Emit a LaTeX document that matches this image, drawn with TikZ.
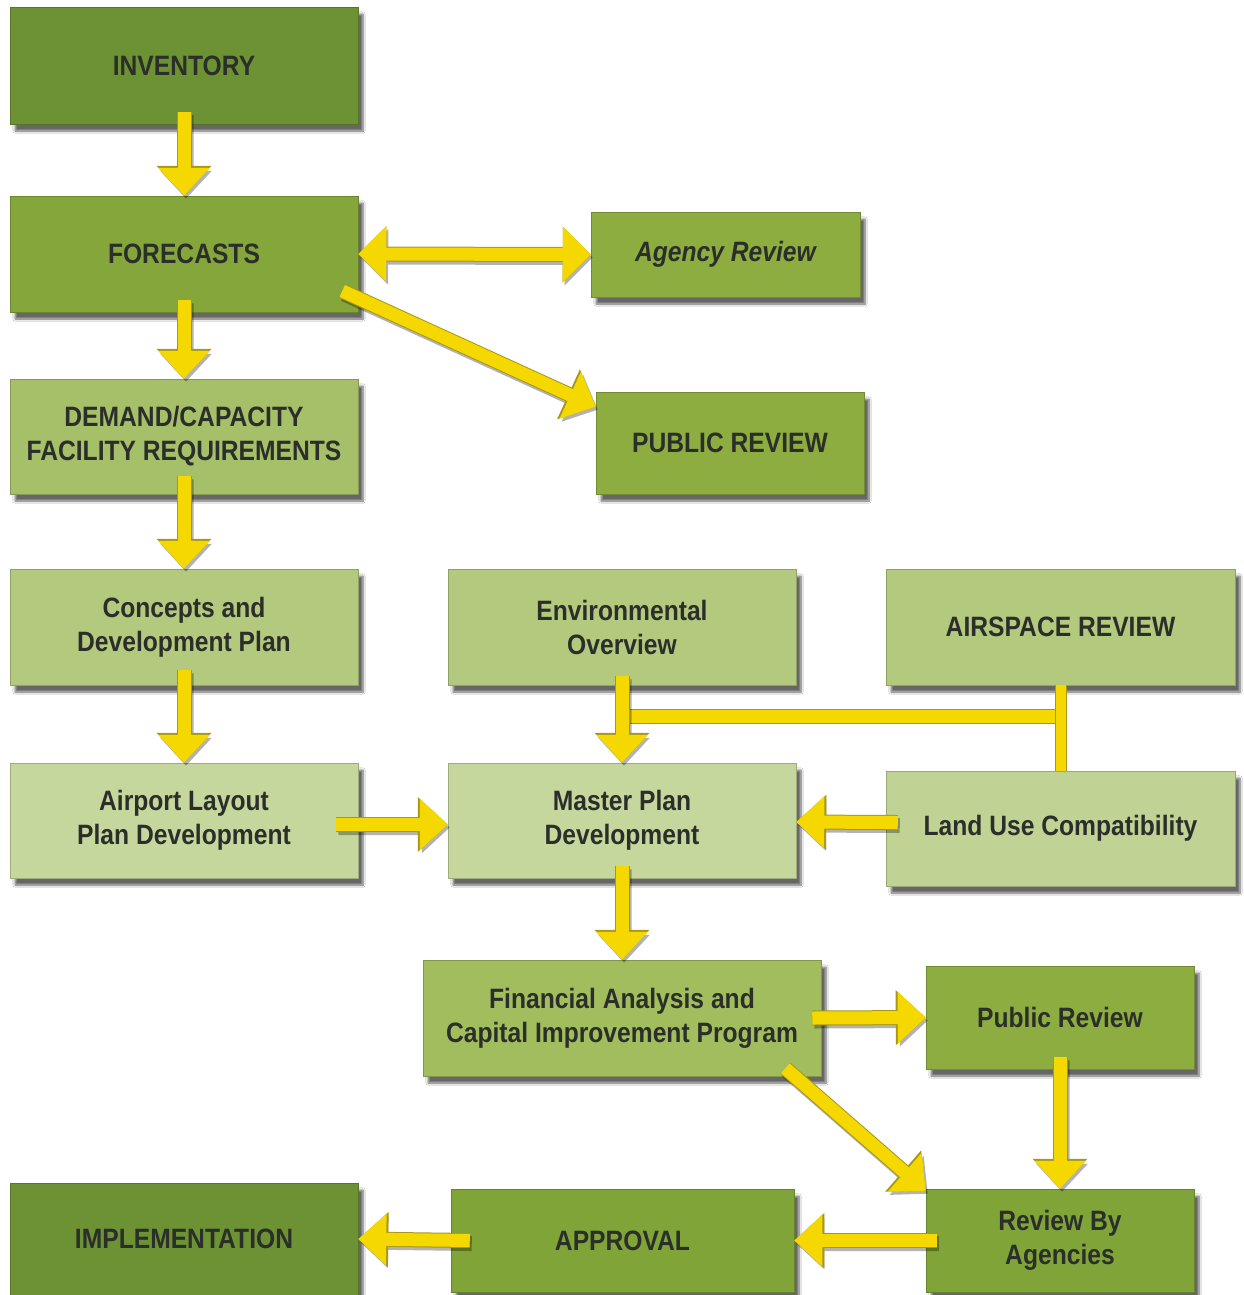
\documentclass[tikz,border=0pt]{standalone}
\usepackage{fontspec}
\setmainfont{Liberation Sans}[FakeStretch=0.88]
\usetikzlibrary{arrows.meta,shadows.blur,calc}
\definecolor{gA}{HTML}{6D9233}
\definecolor{gB}{HTML}{84A63A}
\definecolor{gC}{HTML}{8DAD40}
\definecolor{gD}{HTML}{80A438}
\definecolor{gE}{HTML}{A6BF69}
\definecolor{gF}{HTML}{B3C97E}
\definecolor{gG}{HTML}{C6D79E}
\definecolor{gH}{HTML}{C0D294}
\definecolor{gI}{HTML}{A2BD5E}
\definecolor{txt}{HTML}{2B2F2A}
\definecolor{ylw}{HTML}{F5D800}
\definecolor{yedge}{HTML}{A8981A}
\newcommand\ylink[3][]{%
  \begin{scope}[transparency group,opacity=0.3]
    \draw[yarr,draw=black,line width=15pt,#1,transform canvas={shift={(2pt,-3pt)}}] #2 -- #3;
  \end{scope}
  \draw[yarr,draw=yedge,line width=15pt,-{Triangle[width=53pt,length=30pt]},#1] #2 -- #3;
  \draw[yarr,#1] #2 -- #3;}
\begin{document}
\begin{tikzpicture}[x=1pt,y=-1pt,
  gbox/.style={rectangle,fill=#1,draw=#1!80!black,line width=0.5pt,inner sep=0pt,
    align=center,text=txt,font=\bfseries\fontsize{28}{34}\selectfont,
    blur shadow={shadow xshift=5pt,shadow yshift=-7pt,shadow opacity=60,shadow blur steps=8}},
  yarr/.style={draw=ylw,line width=13pt,-{Triangle[width=50pt,length=28pt]}},
  ybar/.style={draw=ylw,line width=13pt}]
\useasboundingbox[fill=white] (0,0) rectangle (1243,1295);
% boxes
\node[gbox=gA,minimum width=348pt,minimum height=117pt] (inv) at (184,65.5) {INVENTORY};
\node[gbox=gB,minimum width=348pt,minimum height=116pt] (fc) at (184,254) {FORECASTS};
\node[gbox=gC,minimum width=269pt,minimum height=85pt] (agr) at (725.5,254.5) {\itshape Agency Review};
\node[gbox=gC,minimum width=268pt,minimum height=102pt] (pubr) at (730,443) {PUBLIC REVIEW};
\node[gbox=gE,minimum width=348pt,minimum height=115pt] (dem) at (184,436.5) {DEMAND/CAPACITY\\FACILITY REQUIREMENTS};
\node[gbox=gF,minimum width=348pt,minimum height=116pt] (con) at (184,627) {Concepts and\\Development Plan};
\node[gbox=gF,minimum width=348pt,minimum height=116pt] (env) at (622,627) {Environmental\\Overview};
\node[gbox=gF,minimum width=349pt,minimum height=116pt] (air) at (1060.5,627) {AIRSPACE REVIEW};
\node[gbox=gG,minimum width=348pt,minimum height=115pt] (apl) at (184,820.5) {Airport Layout\\Plan Development};
\node[gbox=gG,minimum width=348pt,minimum height=115pt] (mpd) at (622,820.5) {Master Plan\\Development};
\node[gbox=gH,minimum width=349pt,minimum height=115pt] (luc) at (1060.5,828.5) {Land Use Compatibility};
\node[gbox=gI,minimum width=398pt,minimum height=116pt] (fin) at (622,1018) {Financial Analysis and\\Capital Improvement Program};
\node[gbox=gC,minimum width=268pt,minimum height=103pt] (pr2) at (1060,1017.5) {Public Review};
\node[gbox=gD,minimum width=268pt,minimum height=103pt] (rba) at (1060,1240.5) {Review By\\Agencies};
\node[gbox=gD,minimum width=343pt,minimum height=103pt] (app) at (622.5,1240.5) {APPROVAL};
\node[gbox=gA,minimum width=348pt,minimum height=112pt] (imp) at (184,1239) {IMPLEMENTATION};
% connectors
\coordinate (jr) at (1060,716);
\draw[ybar,line width=15pt,draw=yedge] (env.south |- jr) -- (jr);
\draw[ybar] (env.south |- jr) -- (jr);
\draw[ybar,line width=12pt,draw=yedge] (air.south) -- (luc.north);
\draw[ybar,line width=10pt] (air.south) -- (luc.north);
\ylink{([yshift=12pt]inv.south)}{(fc.north)}
\ylink[{Triangle[width=54pt,length=28pt]}-{Triangle[width=54pt,length=28pt]}]{(fc.east)}{(agr.west)}
\ylink{([xshift=-16pt,yshift=-37pt]fc.east)}{([yshift=-15pt]pubr.north west)}
\ylink{([yshift=12pt]fc.south)}{(dem.north)}
\ylink{([yshift=18pt]dem.south)}{(con.north)}
\ylink{([yshift=15pt]con.south)}{(apl.north)}
\ylink{([xshift=-22pt,yshift=-4pt]apl.east)}{([yshift=-4pt]mpd.west)}
\ylink{([yshift=9pt]env.south)}{(mpd.north)}
\ylink{([xshift=12pt,yshift=6pt]luc.west)}{([yshift=-1.5pt]mpd.east)}
\ylink{([yshift=12pt]mpd.south)}{(fin.north)}
\ylink{([xshift=-9pt]fin.east)}{(pr2.west)}
\ylink{([xshift=-36pt,yshift=8pt]fin.south east)}{([yshift=-2pt]rba.north west)}
\ylink{([yshift=12pt]pr2.south)}{(rba.north)}
\ylink{([xshift=11pt]rba.west)}{(app.east)}
\ylink{([xshift=19pt]app.west)}{(imp.east)}
\end{tikzpicture}
\end{document}
